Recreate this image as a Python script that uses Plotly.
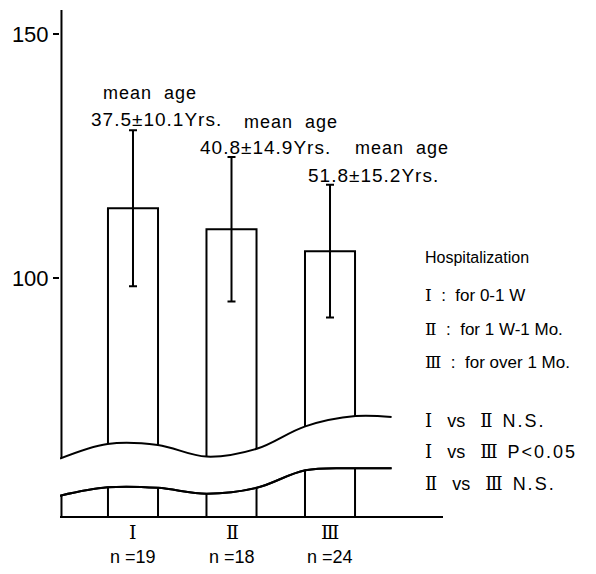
import plotly.graph_objects as go

# ---- data -------------------------------------------------------------
groups = ["Ⅰ", "Ⅱ", "Ⅲ"]
n_counts = [19, 18, 24]
means = [114.3, 110.0, 105.5]
sds = [16.0, 14.8, 13.6]
mean_age = [37.5, 40.8, 51.8]
age_sd = [10.1, 14.9, 15.2]
y_tickvals = [100, 150]
y_ticktext = ["100", "150"]
hosp_periods = ["for 0-1 W", "for 1 W-1 Mo.", "for over 1 Mo."]
comparisons = [("Ⅰ", "Ⅱ", "N.S."), ("Ⅰ", "Ⅲ", "P&lt;0.05"), ("Ⅱ", "Ⅲ", "N.S.")]

# ---- geometry ---------------------------------------------------------
W, H = 596, 574
L, R, T, B = 60, 443, 10, 516          # plot area in pixels
X_RANGE = [-0.741, 3.147]
Y_RANGE = [51.23, 154.92]
BAR_W = 0.508

FONT = "Liberation Sans, Arial, sans-serif"
NUM_FONT = "DejaVu Serif, Liberation Serif, serif"
NB = "\u00a0"


def px_x(px):
    return (px - L) / (R - L)


def px_y(py):
    return (B - py) / (B - T)


def roman(s):
    return f'<span style="font-family:{NUM_FONT}">{s}</span>'


def spaced(s, sp=1):
    return f'<span style="letter-spacing:{sp}px">{s}</span>'


x_pos = list(range(len(groups)))

fig = go.Figure()

# bars with SD error bars
fig.add_trace(go.Bar(
    x=x_pos, y=means, width=BAR_W,
    marker=dict(color="white", line=dict(color="black", width=2)),
    error_y=dict(type="data", array=sds, color="black", thickness=2, width=4),
    showlegend=False, hoverinfo="skip",
))

# vertical axis line (drawn as a trace so the break band can hide it)
ax_x = X_RANGE[0] + 0.015
fig.add_trace(go.Scatter(
    x=[ax_x, ax_x], y=Y_RANGE, mode="lines",
    line=dict(color="black", width=2), showlegend=False, hoverinfo="skip",
))

# axis-break band: white area between two wavy lines
brk_x = [X_RANGE[0], -0.258, 0.252, 0.746, 1.256, 1.749, 2.259, 2.625]
brk_hi = [63.0, 66.0, 65.8, 63.4, 65.0, 69.6, 71.7, 71.5]
brk_lo = [55.4, 57.1, 57.0, 55.8, 57.0, 60.6, 61.0, 61.0]

fig.add_trace(go.Scatter(
    x=brk_x, y=brk_lo, mode="lines",
    line=dict(color="black", width=2, shape="spline", smoothing=1),
    showlegend=False, hoverinfo="skip",
))
fig.add_trace(go.Scatter(
    x=brk_x, y=brk_hi, mode="lines", fill="tonexty", fillcolor="white",
    line=dict(color="black", width=2, shape="spline", smoothing=1),
    showlegend=False, hoverinfo="skip",
))
fig.add_trace(go.Scatter(
    x=brk_x, y=brk_lo, mode="lines",
    line=dict(color="black", width=2, shape="spline", smoothing=1),
    showlegend=False, hoverinfo="skip",
))

ann = []

# mean-age labels above the bars
age_pos = [((150, 93), (156, 120)), ((291, 122), (265, 147)), ((402, 148), (373, 175))]
for (p1, p2), a, s in zip(age_pos, mean_age, age_sd):
    ann.append(dict(text=spaced(f"mean{NB} age", 1), x=px_x(p1[0]), y=px_y(p1[1]),
                    xref="paper", yref="paper", showarrow=False,
                    xanchor="center", yanchor="middle",
                    font=dict(family=FONT, size=18, color="black")))
    ann.append(dict(text=spaced(f"{a}±{s}Yrs.", 1), x=px_x(p2[0]), y=px_y(p2[1]),
                    xref="paper", yref="paper", showarrow=False,
                    xanchor="center", yanchor="middle",
                    font=dict(family=FONT, size=19, color="black")))

# category labels under the bars
bar_px = [133, 232, 330]
for cx, g, n in zip(bar_px, groups, n_counts):
    ann.append(dict(text=roman(g), x=px_x(cx), y=px_y(532), xref="paper", yref="paper",
                    showarrow=False, xanchor="center", yanchor="middle",
                    font=dict(family=FONT, size=19, color="black")))
    ann.append(dict(text=f"n{NB}={n}", x=px_x(cx), y=px_y(557), xref="paper",
                    yref="paper", showarrow=False, xanchor="center", yanchor="middle",
                    font=dict(family=FONT, size=18, color="black")))

# hospitalization key
TX = 423
ann.append(dict(text="Hospitalization", x=px_x(TX), y=px_y(257), xref="paper", yref="paper",
                showarrow=False, xanchor="left", yanchor="middle",
                font=dict(family=FONT, size=16, color="black")))
for i, (g, per) in enumerate(zip(groups, hosp_periods)):
    ann.append(dict(text=f"{roman(g)}{NB}{NB}:{NB}{NB}{per}", x=px_x(TX),
                    y=px_y(295 + 33.5 * i),
                    xref="paper", yref="paper", showarrow=False,
                    xanchor="left", yanchor="middle",
                    font=dict(family=FONT, size=17, color="black")))

# pairwise comparisons
for i, (a, b, res) in enumerate(comparisons):
    ann.append(dict(text=f"{roman(a)}{NB*3}vs{NB*3}{roman(b)}{NB*2}{spaced(res, 2)}",
                    x=px_x(TX), y=px_y(420 + 31.5 * i),
                    xref="paper", yref="paper", showarrow=False,
                    xanchor="left", yanchor="middle",
                    font=dict(family=FONT, size=18, color="black")))

fig.update_layout(
    width=W, height=H,
    margin=dict(l=L, r=W - R, t=T, b=H - B, pad=0, autoexpand=False),
    paper_bgcolor="white", plot_bgcolor="white",
    showlegend=False,
    annotations=ann,
    xaxis=dict(range=X_RANGE, showgrid=False, zeroline=False, showticklabels=False,
               ticks="", showline=True, linecolor="black", linewidth=2, automargin=False),
    yaxis=dict(range=Y_RANGE, tickvals=y_tickvals, ticktext=y_ticktext,
               ticks="outside", ticklen=6, automargin=False,
               tickwidth=2, tickcolor="black", showgrid=False, zeroline=False,
               showline=False, tickfont=dict(family=FONT, size=22, color="black")),
)

fig.write_html("out.html")
